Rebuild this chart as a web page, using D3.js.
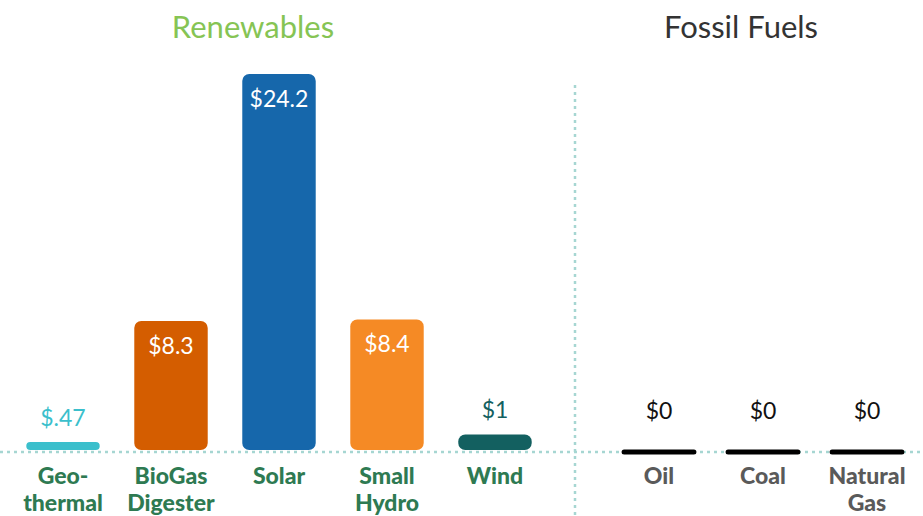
<!DOCTYPE html>
<html><head><meta charset="utf-8">
<script src="https://cdn.jsdelivr.net/npm/d3@7"></script>
<style>body{margin:0;background:#fff}svg{display:block}</style>
</head><body>
<svg id="c" width="923" height="516"></svg>
<script>
const renewCats = [["Geo-","thermal"],["BioGas","Digester"],["Solar"],["Small","Hydro"],["Wind"]];
const renewVals = [0.47, 8.3, 24.2, 8.4, 1];
const renewLabels = ["$.47","$8.3","$24.2","$8.4","$1"];
const renewColors = ["#3bbfcc","#d45d00","#1667ab","#f58a25","#136060"];
const fossilCats = [["Oil"],["Coal"],["Natural","Gas"]];
const fossilVals = [0, 0, 0];
const fossilLabels = ["$0","$0","$0"];

const svg = d3.select("#c");
const font = "'Source Sans Pro', Lato, 'Open Sans', sans-serif";
const baseY = 452;
const y = d3.scaleLinear().domain([0, 24.2]).range([baseY - 2, 74]);
const xR = d3.scaleBand().domain(d3.range(5)).range([9, 549]).paddingInner(0.32).paddingOuter(0.16);
const xF = d3.scaleBand().domain(d3.range(3)).range([607, 919]).paddingInner(0.29).paddingOuter(0.145);

// baseline dotted
svg.append("line").attr("x1",0).attr("x2",923).attr("y1",baseY).attr("y2",baseY)
  .attr("stroke","#a6d6d2").attr("stroke-width",2.5).attr("stroke-dasharray","3,4");
// divider
svg.append("line").attr("x1",575).attr("x2",575).attr("y1",85).attr("y2",516)
  .attr("stroke","#a6d6d2").attr("stroke-width",2.5).attr("stroke-dasharray","3,4");

// titles
svg.append("text").attr("x",253).attr("y",38).attr("text-anchor","middle")
  .attr("font-family",font).attr("font-size",31).attr("fill","#86c454").text("Renewables");
svg.append("text").attr("x",741).attr("y",38).attr("text-anchor","middle")
  .attr("font-family",font).attr("font-size",31).attr("fill","#333").text("Fossil Fuels");

// renewable bars
renewVals.forEach((v,i)=>{
  const x0 = xR(i), w = xR.bandwidth();
  const top = y(v), h = y(0) - y(v);
  const hh = Math.max(h, 8);
  svg.append("rect").attr("x",x0).attr("y",y(0)-hh).attr("width",w).attr("height",hh)
    .attr("rx", Math.min(7, hh/2)).attr("fill",renewColors[i]);
  const inside = h > 60;
  svg.append("text").attr("x",x0+w/2).attr("y", inside ? top+33 : y(0)-hh-16)
    .attr("text-anchor","middle").attr("font-family",font).attr("font-size",23)
    .attr("fill", inside ? "#fff" : renewColors[i]).text(renewLabels[i]);
  renewCats[i].forEach((t,j)=>{
    svg.append("text").attr("x",x0+w/2).attr("y",484+j*27).attr("text-anchor","middle")
      .attr("font-family",font).attr("font-weight",900).attr("font-size",23)
      .attr("fill","#2e7a52").text(t);
  });
});

// fossil bars
fossilVals.forEach((v,i)=>{
  const x0 = xF(i), w = xF.bandwidth();
  svg.append("line").attr("x1",x0+2).attr("x2",x0+w-2).attr("y1",y(v)+2).attr("y2",y(v)+2)
    .attr("stroke","#000").attr("stroke-width",5).attr("stroke-linecap","round");
  svg.append("text").attr("x",x0+w/2).attr("y",419).attr("text-anchor","middle")
    .attr("font-family",font).attr("font-size",23).attr("fill","#111").text(fossilLabels[i]);
  fossilCats[i].forEach((t,j)=>{
    svg.append("text").attr("x",x0+w/2).attr("y",484+j*27).attr("text-anchor","middle")
      .attr("font-family",font).attr("font-weight",900).attr("font-size",23)
      .attr("fill","#5a5a5a").text(t);
  });
});
</script>
</body></html>
